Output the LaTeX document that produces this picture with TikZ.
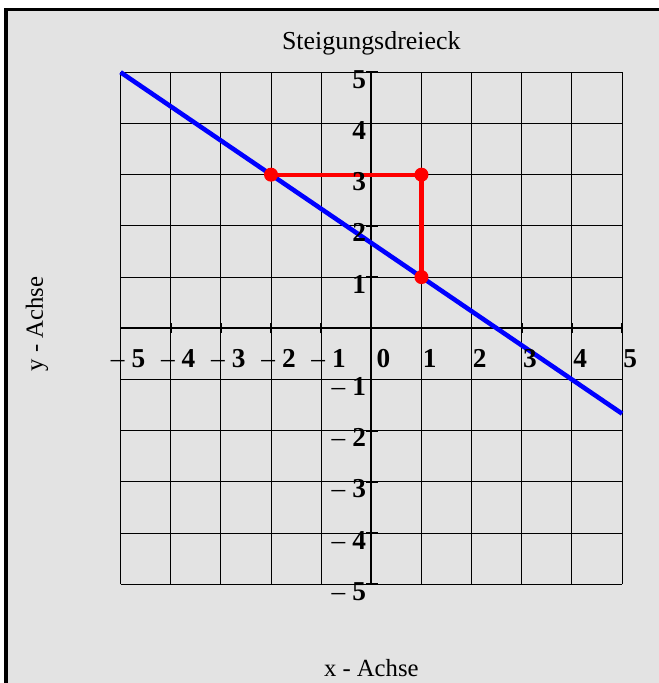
\documentclass[tikz,border=0pt]{standalone}
\usepackage{fontspec}
\setmainfont{Liberation Serif}
\definecolor{panel}{RGB}{227,227,227}

\begin{document}
\begin{tikzpicture}[
    x=1cm, y=1.021cm,
    gridline/.style={black, line width=0.55pt},
    axisline/.style={black, line width=1.1pt},
    axtick/.style={black, line width=1pt},
    numlbl/.style={font=\fontsize{15.5}{18}\selectfont, inner sep=0pt},
    caption/.style={font=\fontsize{14}{16}\selectfont, inner sep=0pt},
    gerade/.style={blue, line width=2.6pt},
    dreieck/.style={red, line width=2.4pt},
    punkt/.style={circle, fill=red, inner sep=0pt, minimum size=0.28cm},
]
\useasboundingbox (-7.404cm,-7.073cm) rectangle (5.717cm,6.546cm);
% Panel with thick frame (right and bottom edges lie outside the page).
\filldraw[fill=panel, draw=black, line width=2pt] (-7.289cm,6.352cm) rectangle (6.5cm,-7.8cm);

% Grid and axes.
\foreach \k in {-5,...,5} {
    \draw[gridline] (\k,-5) -- (\k,5);
    \draw[gridline] (-5,\k) -- (5,\k);
}
\draw[axisline] (-5,0) -- (5,0);
\draw[axisline] (0,-5) -- (0,5);
\foreach \k in {-5,...,5} {
    \draw[axtick] (\k,-0.1cm) -- (\k,0.1cm);
    \draw[axtick] (-0.1cm,\k) -- (0.14cm,\k);
}

% Line through the two points, and the slope triangle.
\coordinate (gA) at (-5,5);
\coordinate (gB) at (5,-1.667);
\coordinate (P1) at (-2,3);
\coordinate (P2) at (1,3);
\coordinate (P3) at (1,1);
\draw[gerade] (gA) -- (gB);
\draw[dreieck] (P1) -- (P2) -- (P3);
\node[punkt] (dotA) at (P1) {};
\node[punkt] (dotB) at (P2) {};
\node[punkt] (dotC) at (P3) {};

% Axis numbers.
\node[numlbl, anchor=west, xshift=0.1cm, yshift=-0.6cm] (x0) at (0,0) {\textbf{0}};
\foreach \n in {1,...,5} {
    \node[numlbl, anchor=west, xshift=0.02cm, yshift=-0.6cm] (xp\n) at (\n,0) {\textbf{\n}};
    \node[numlbl, anchor=west, xshift=-0.2cm, yshift=-0.6cm] (xm\n) at (-\n,0) {\textendash\ \textbf{\n}};
    \node[numlbl, anchor=east, xshift=-0.1cm, yshift=-0.14cm] (yp\n) at (0,\n) {\textbf{\n}};
    \node[numlbl, anchor=east, xshift=-0.1cm, yshift=-0.14cm] (ym\n) at (0,-\n) {\textendash\ \textbf{\n}};
}

% Captions.
\node[caption, font=\fontsize{14.7}{17}\selectfont, anchor=base] (titel) at (0,5.549cm) {Steigungsdreieck};
\node[caption, anchor=base] (xachse) at (0,-6.953cm) {x - Achse};
\node[caption, rotate=90] (yachse) at (-6.666cm,0.086cm) {y - Achse};
\end{tikzpicture}
\end{document}
